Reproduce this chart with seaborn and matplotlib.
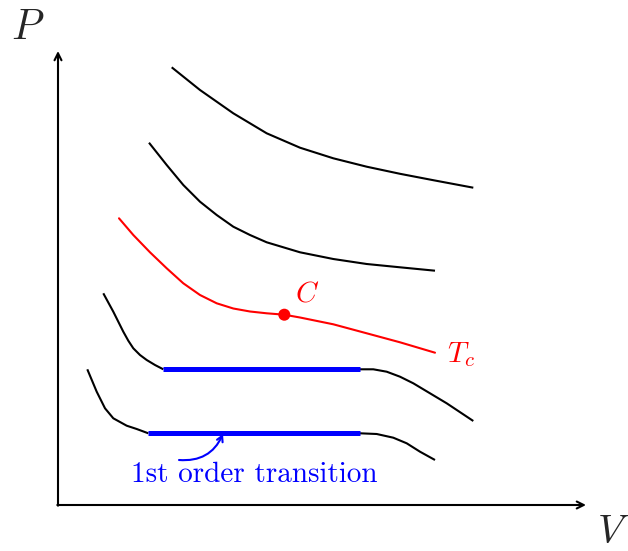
import matplotlib
matplotlib.use("Agg")
import matplotlib.pyplot as plt
import seaborn as sns

sns.set_style("white")
plt.rcParams["mathtext.fontset"] = "cm"

# Isotherms in (V, P) units, origin at the corner of the axes
iso1_v = [113.7, 142, 175.3, 208.7, 242, 275.3, 308.7, 342, 375.3, 415.3]
iso1_p = [437.7, 415, 391.7, 371.7, 357.3, 346.7, 338.3, 331.2, 324.8, 317.3]

iso2_v = [91, 108.7, 125.3, 142, 158.7, 175.3, 192, 208.7, 242, 275.3, 308.7, 342, 377]
iso2_p = [362.3, 340, 320, 303.3, 290, 278.3, 270, 262.7, 252.7, 246, 241, 237.7, 234.3]

crit_v = [61, 75.3, 92, 108.7, 125.3, 142, 158.7, 175.3, 192, 208.7, 226.3,
          242, 275.3, 308.7, 342, 377]
crit_p = [286.7, 270, 252.7, 236.7, 221.7, 210, 201.7, 196.5, 193.5, 191.7, 190.3,
          187.5, 180.7, 171.7, 162.7, 152.3]
crit_point = (226.3, 190.3)

iso4_left_v = [45.3, 55.3, 65.3, 70.3, 75.3, 82, 88.7, 97, 105.3]
iso4_left_p = [211.7, 193.3, 173.3, 164.3, 156.7, 150, 145, 140, 135.7]
iso4_right_v = [302, 315.3, 328.7, 342, 355.3, 372, 388.7, 415.3]
iso4_right_p = [135.7, 135.7, 133.3, 128.3, 121.7, 111.7, 101.7, 84]

iso5_left_v = [29.3, 38.7, 47, 55.3, 68.7, 78.7, 90.3]
iso5_left_p = [135.7, 113.3, 96.7, 86.7, 79.3, 76, 71.7]
iso5_right_v = [302, 318.7, 335.3, 348.7, 362, 377]
iso5_right_p = [71.7, 71, 67.3, 61.7, 53.3, 45]

# Coexistence plateaus: (V_start, V_end, P)
plateaus = [(105.3, 302, 135.7), (90.3, 302, 71.7)]

fig = plt.figure(figsize=(6.28, 5.51), dpi=100)
ax = fig.add_axes([0, 0, 1, 1])
ax.set_xlim(-58, 570)
ax.set_ylim(-46, 505)
ax.axis("off")

black_curves = [
    (iso1_v, iso1_p), (iso2_v, iso2_p),
    (iso4_left_v, iso4_left_p), (iso4_right_v, iso4_right_p),
    (iso5_left_v, iso5_left_p), (iso5_right_v, iso5_right_p),
]
for v, p in black_curves:
    sns.lineplot(x=v, y=p, sort=False, estimator=None, color="black",
                 lw=1.5, ax=ax, solid_capstyle="butt", solid_joinstyle="round")

sns.lineplot(x=crit_v, y=crit_p, sort=False, estimator=None, color="red",
             lw=1.5, ax=ax, solid_joinstyle="round")
sns.scatterplot(x=[crit_point[0]], y=[crit_point[1]], color="red", s=75,
                edgecolor="none", ax=ax, zorder=5)

for v0, v1, p in plateaus:
    sns.lineplot(x=[v0, v1], y=[p, p], color="blue", lw=3.6, ax=ax,
                 solid_capstyle="butt", zorder=4)

# Axes with arrow heads
arrow = dict(arrowstyle="->,head_length=0.5,head_width=0.25", lw=1.5,
             color="black", shrinkA=0, shrinkB=0)
ax.annotate("", xy=(528, 0), xytext=(-0.7, 0), arrowprops=arrow)
ax.annotate("", xy=(0, 454), xytext=(0, -0.7), arrowprops=arrow)

ax.text(-30, 478, r"$P$", fontsize=30, ha="center", va="center")
ax.text(555, -27, r"$V$", fontsize=29, ha="center", va="center")
ax.text(249, 212, r"$C$", fontsize=21, ha="center", va="center", color="red")
ax.text(389, 143, r"$T_c$", fontsize=21, ha="left", va="baseline", color="red")

ax.text(196, 23, "1st order transition", fontsize=21, family="cmr10",
        ha="center", va="baseline", color="blue")
ax.annotate("", xy=(165, 71), xytext=(121, 45),
            arrowprops=dict(arrowstyle="->,head_length=0.4,head_width=0.22",
                            lw=1.5, color="blue", shrinkA=0, shrinkB=0,
                            connectionstyle="arc3,rad=0.35"))

fig.savefig("out.png", dpi=100)
